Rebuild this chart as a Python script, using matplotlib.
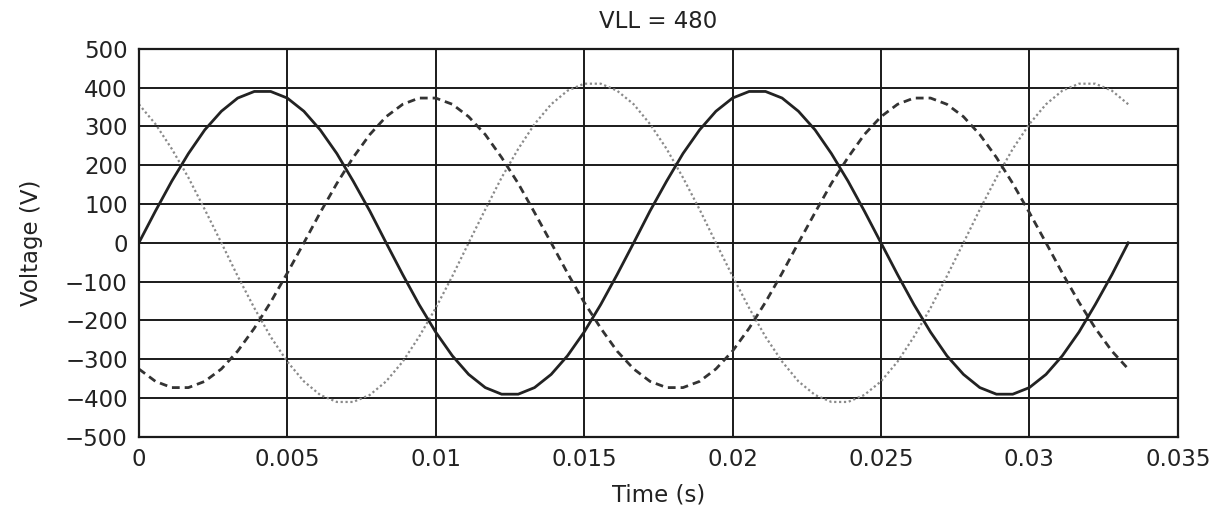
# Three-phase voltages, VLL = 480
from matplotlib import pyplot as plt

t = [0, 0.00056, 0.00111, 0.00167, 0.00222, 0.00278, 0.00333, 0.00389, 0.00444, 0.005,
     0.00556, 0.00611, 0.00667, 0.00722, 0.00778, 0.00833, 0.00889, 0.00944, 0.01, 0.01056,
     0.01111, 0.01167, 0.01222, 0.01278, 0.01333, 0.01389, 0.01444, 0.015, 0.01556, 0.01611,
     0.01667, 0.01722, 0.01778, 0.01833, 0.01889, 0.01944, 0.02, 0.02056, 0.02111, 0.02167,
     0.02222, 0.02278, 0.02333, 0.02389, 0.02444, 0.025, 0.02556, 0.02611, 0.02667, 0.02722,
     0.02778, 0.02833, 0.02889, 0.02944, 0.03, 0.03056, 0.03111, 0.03167, 0.03222, 0.03278,
     0.03333]

va = [0, 82, 159, 230, 291, 339, 373, 390, 390, 373, 339, 291, 230, 159, 82,
      0, -82, -159, -230, -291, -339, -373, -390, -390, -373, -339, -291, -230, -159, -82,
      0, 82, 159, 230, 291, 339, 373, 390, 390, 373, 339, 291, 230, 159, 82,
      0, -82, -159, -230, -291, -339, -373, -390, -390, -373, -339, -291, -230, -159, -82,
      0]

vb = [-325, -357, -373, -373, -357, -325, -279, -220, -153, -78, 0, 78, 153, 220, 279,
      325, 357, 373, 373, 357, 325, 279, 220, 153, 78, 0, -78, -153, -220, -279,
      -325, -357, -373, -373, -357, -325, -279, -220, -153, -78, 0, 78, 153, 220, 279,
      325, 357, 373, 373, 357, 325, 279, 220, 153, 78, 0, -78, -153, -220, -279,
      -325]

vc = [357, 306, 242, 168, 86, 0, -86, -168, -242, -306, -357, -392, -410, -410, -392,
      -357, -306, -242, -168, -86, 0, 86, 168, 242, 306, 357, 392, 410, 410, 392,
      357, 306, 242, 168, 86, 0, -86, -168, -242, -306, -357, -392, -410, -410, -392,
      -357, -306, -242, -168, -86, 0, 86, 168, 242, 306, 357, 392, 410, 410, 392,
      357]

x_ticks = [0, 0.005, 0.01, 0.015, 0.02, 0.025, 0.03, 0.035]
x_labels = ['0', '0.005', '0.01', '0.015', '0.02', '0.025', '0.03', '0.035']
y_ticks = [-500, -400, -300, -200, -100, 0, 100, 200, 300, 400, 500]

plt.rcParams['font.family'] = ['DejaVu Sans']

fig = plt.figure(figsize=(12.18, 5.08), dpi=100)
ax = fig.add_axes([0.114, 0.140, 0.853, 0.764])

ax.plot(t, vc, color='#8a8a8a', linestyle=(0, (1, 1.2)), linewidth=1.6)
ax.plot(t, vb, color='#333333', linestyle=(0, (2.8, 1.8)), linewidth=2.0)
ax.plot(t, va, color='#222222', linestyle='-', linewidth=2.0)

ax.set_xlim(0, 0.035)
ax.set_ylim(-500, 500)
ax.set_xticks(x_ticks)
ax.set_xticklabels(x_labels)
ax.set_yticks(y_ticks)
ax.grid(True, color='#1a1a1a', linewidth=1.4)
ax.set_axisbelow(True)
for s in ax.spines.values():
    s.set_linewidth(1.6)
    s.set_color('#1a1a1a')
ax.tick_params(length=0, labelsize=16.5, labelcolor='#222222', pad=8)

ax.set_title('VLL = 480', fontsize=16.5, color='#222222', pad=15)
ax.set_xlabel('Time (s)', fontsize=16.5, color='#222222', labelpad=9)
ax.set_ylabel('Voltage (V)', fontsize=16.5, color='#222222', labelpad=16)

fig.savefig('out.png', dpi=100)
